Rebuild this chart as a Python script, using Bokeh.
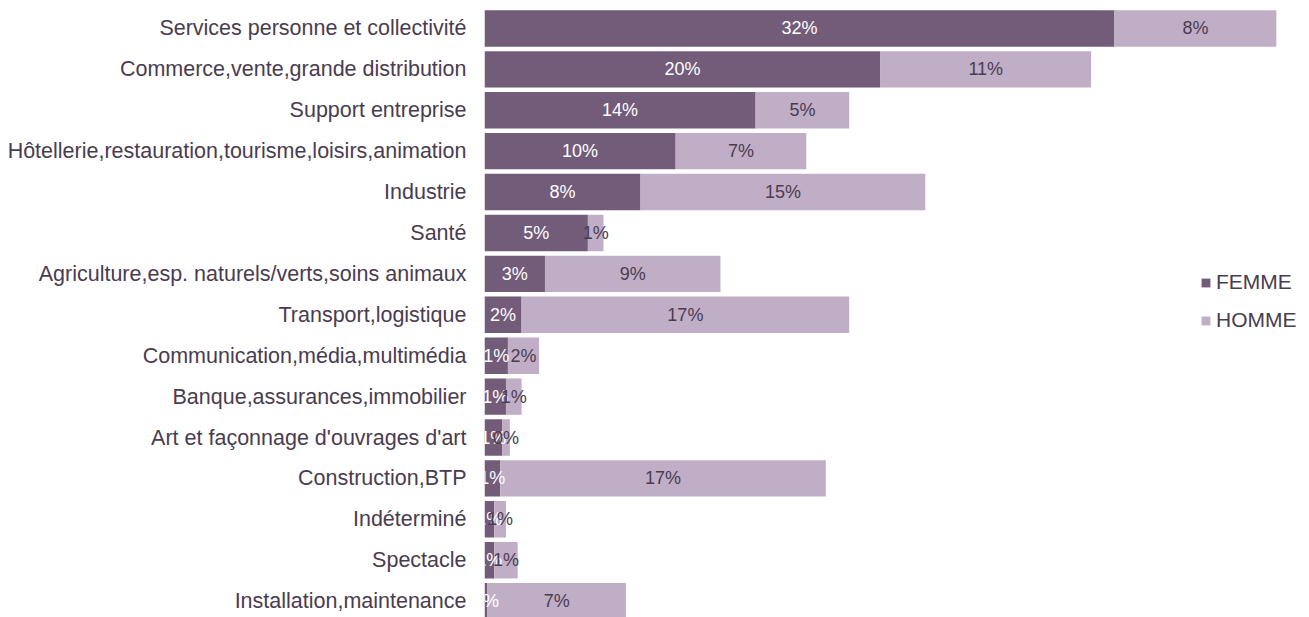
from bokeh.plotting import figure
from bokeh.models import Range1d, FixedTicker, ColumnDataSource, Legend, LegendItem, LabelSet
from bokeh.core.properties import value
from bokeh.embed import file_html
from bokeh.resources import INLINE

categories = [
    "Services personne et collectivité",
    "Commerce,vente,grande distribution",
    "Support entreprise",
    "Hôtellerie,restauration,tourisme,loisirs,animation",
    "Industrie",
    "Santé",
    "Agriculture,esp. naturels/verts,soins animaux",
    "Transport,logistique",
    "Communication,média,multimédia",
    "Banque,assurances,immobilier",
    "Art et façonnage d'ouvrages d'art",
    "Construction,BTP",
    "Indéterminé",
    "Spectacle",
    "Installation,maintenance",
]
femme = [32.3, 20.3, 13.9, 9.8, 8.0, 5.3, 3.1, 1.9, 1.2, 1.1, 0.9, 0.8, 0.5, 0.5, 0.15]
homme = [8.3, 10.8, 4.8, 6.7, 14.6, 0.8, 9.0, 16.8, 1.6, 0.8, 0.4, 16.7, 0.6, 1.2, 7.1]
series_names = ["FEMME", "HOMME"]

FONT = "Liberation Sans"
C_F = "#735b7a"
C_H = "#c0aec6"
TXT = "#4a3c50"


def pct(v):
    return "%d%%" % int(v + 0.5)


rows = list(range(len(categories)))
src = ColumnDataSource(dict(
    y=rows,
    f=femme,
    h=homme,
    fx=[v / 2 for v in femme],
    hx=[a + b / 2 for a, b in zip(femme, homme)],
    hl=[a + b for a, b in zip(femme, homme)],
    fl=[pct(v) for v in femme],
    hlab=[pct(v) for v in homme],
))

p = figure(width=1309, height=617, output_backend="svg", toolbar_location=None,
           x_range=Range1d(0, 42.3), y_range=Range1d(14.4, -0.683),
           min_border_left=484, min_border_right=0, min_border_top=0, min_border_bottom=0)
p.outline_line_color = None
p.xgrid.visible = False
p.ygrid.visible = False
p.xaxis.visible = False

rf = p.hbar(y="y", left=0, right="f", height=0.89, source=src, fill_color=C_F, line_color=None)
rh = p.hbar(y="y", left="f", right="hl", height=0.89, source=src, fill_color=C_H, line_color=None)

ax = p.yaxis[0]
ax.ticker = FixedTicker(ticks=rows)
ax.major_label_overrides = {i: c for i, c in enumerate(categories)}
ax.axis_line_color = None
ax.major_tick_line_color = None
ax.minor_tick_line_color = None
ax.major_tick_out = 0
ax.major_tick_in = 0
ax.major_label_standoff = 18
ax.major_label_text_font = FONT
ax.major_label_text_font_size = "21.5px"
ax.major_label_text_color = TXT

lf = LabelSet(x="fx", y="y", text="fl", source=src, text_align="center", text_baseline="middle",
              text_font=value(FONT), text_font_size=value("18px"), text_color="white")
lh = LabelSet(x="hx", y="y", text="hlab", source=src, text_align="center", text_baseline="middle",
              text_font=value(FONT), text_font_size=value("18px"), text_color=TXT)
p.add_layout(lf)
p.add_layout(lh)

legend = Legend(items=[LegendItem(label=series_names[0], renderers=[rf]),
                       LegendItem(label=series_names[1], renderers=[rh])],
                location=(716, 285), orientation="vertical")
legend.glyph_width = 11
legend.glyph_height = 11
legend.label_standoff = 5
legend.label_text_font = FONT
legend.label_text_font_size = "21px"
legend.label_text_color = TXT
legend.spacing = 14
legend.padding = 0
legend.margin = 0
legend.border_line_color = None
legend.background_fill_alpha = 0
p.add_layout(legend)

open("out.html", "w").write(file_html(p, INLINE))
